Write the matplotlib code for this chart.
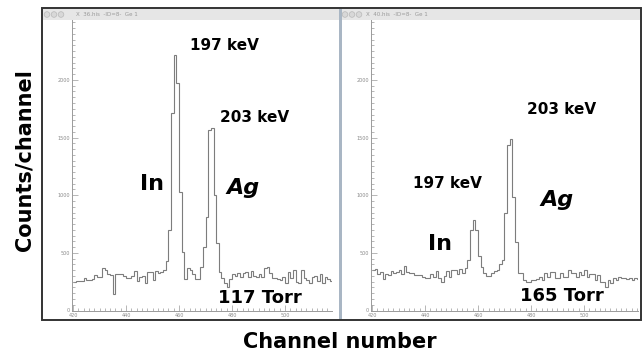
import matplotlib
matplotlib.use('Agg')
import matplotlib.pyplot as plt
import matplotlib.patches as patches
from matplotlib.ticker import FixedLocator, MultipleLocator

W, H = 643, 358

# spectrum at 117 Torr (left window), one bin per channel
channels_117 = list(range(420, 518))
counts_117 = [250, 255, 255, 255, 285, 265, 265, 270, 305, 290,
              290, 370, 350, 320, 305, 145, 320, 315, 315, 300,
              285, 285, 295, 340, 255, 290, 295, 240, 330, 330,
              265, 340, 325, 330, 355, 430, 700, 1715, 2220, 1970,
              1030, 505, 270, 365, 348, 313, 272, 272, 374, 550,
              811, 1565, 1585, 1000, 583, 336, 285, 240, 205, 270,
              315, 300, 322, 293, 322, 336, 293, 345, 300, 293,
              315, 293, 366, 380, 322, 285, 280, 270, 265, 293,
              236, 330, 280, 350, 250, 236, 350, 280, 265, 240,
              290, 300, 255, 320, 240, 290, 275, 260]

# spectrum at 165 Torr (right window)
channels_165 = list(range(420, 521))
counts_165 = [348, 363, 319, 333, 275, 319, 304, 340, 325, 330,
              348, 315, 383, 333, 325, 325, 304, 304, 304, 290,
              285, 285, 319, 290, 340, 285, 246, 295, 340, 290,
              348, 348, 319, 363, 325, 365, 435, 696, 789, 696,
              470, 377, 322, 296, 296, 322, 340, 348, 400, 435,
              843, 1435, 1484, 985, 594, 322, 322, 264, 250, 250,
              264, 264, 270, 293, 264, 328, 293, 336, 336, 279,
              279, 322, 293, 293, 351, 322, 322, 293, 336, 308,
              351, 293, 316, 316, 264, 308, 250, 250, 206, 264,
              236, 279, 264, 293, 279, 279, 270, 279, 264, 279,
              270]

tick_labels = [420, 440, 460, 480, 500]
y_labels = [0, 500, 1000, 1500, 2000]

BOLD = dict(fontweight='bold', color='black', family='DejaVu Sans')


def px_rect(x0, y0, x1, y1):
    return [x0 / W, 1 - y1 / H, (x1 - x0) / W, (y1 - y0) / H]


def setup(ax, xmax):
    ax.set_xlim(419.5, xmax)
    ax.set_ylim(0, 2520)
    ax.spines['top'].set_visible(False)
    ax.spines['right'].set_visible(False)
    for s in ['left', 'bottom']:
        ax.spines[s].set_color('#9a9a9a')
        ax.spines[s].set_linewidth(0.7)
    ax.xaxis.set_major_locator(FixedLocator(tick_labels))
    ax.xaxis.set_minor_locator(MultipleLocator(2))
    ax.yaxis.set_major_locator(FixedLocator(y_labels))
    ax.yaxis.set_minor_locator(MultipleLocator(50))
    ax.tick_params(which='both', direction='in', colors='#9a9a9a',
                   labelsize=3.5, labelcolor='#8a8a8a', width=0.5)
    ax.tick_params(which='major', length=4, pad=1.5)
    ax.tick_params(which='minor', length=2)
    ax.patch.set_alpha(0)


fig = plt.figure(figsize=(W / 100, H / 100), dpi=100)

# window decorations drawn in pixel space
bg = fig.add_axes([0, 0, 1, 1])
bg.set_xlim(0, W)
bg.set_ylim(H, 0)
bg.axis('off')
bg.add_patch(patches.Rectangle((43, 9), 296, 11, fc='#e6e6e6', ec='none'))
bg.add_patch(patches.Rectangle((341, 9), 299, 11, fc='#e6e6e6', ec='none'))
bg.add_patch(patches.Rectangle((338.5, 9), 3, 311, fc='#a9b6c4', ec='none'))
bg.add_patch(patches.Rectangle((42, 8), 599, 312, fc='none', ec='#333333', lw=1.4))
for cx in [47, 54, 61, 345, 352, 359]:
    bg.add_patch(patches.Circle((cx, 14.5), 2.8, fc='#d8d8d8', ec='#b8b8b8', lw=0.5))
bg.text(76, 14.5, 'X  36.his  -ID=8-  Ge 1', fontsize=4, color='#999999', va='center')
bg.text(366, 14.5, 'X  40.his  -ID=8-  Ge 1', fontsize=4, color='#999999', va='center')

# left spectrum
ax1 = fig.add_axes(px_rect(71.7, 20, 332, 310.5))
setup(ax1, 517.7)
ax1.stairs(counts_117, channels_117 + [channels_117[-1] + 1],
           baseline=None, color='#7d7d7d', lw=0.8)

# right spectrum
ax2 = fig.add_axes(px_rect(370.7, 20, 638, 310.5))
setup(ax2, 520.4)
ax2.stairs(counts_165, channels_165 + [channels_165[-1] + 1],
           baseline=None, color='#7d7d7d', lw=0.8)

# annotations
bg.text(224, 45, '197 keV', fontsize=11, ha='center', va='center', **BOLD)
bg.text(255, 118, '203 keV', fontsize=11, ha='center', va='center', **BOLD)
bg.text(152, 184, 'In', fontsize=16, ha='center', va='center', **BOLD)
bg.text(243, 188, 'Ag', fontsize=16, ha='center', va='center', style='italic', **BOLD)
bg.text(260, 298, '117 Torr', fontsize=13, ha='center', va='center', **BOLD)

bg.text(562, 109, '203 keV', fontsize=11, ha='center', va='center', **BOLD)
bg.text(447, 183, '197 keV', fontsize=11, ha='center', va='center', **BOLD)
bg.text(440, 244, 'In', fontsize=16, ha='center', va='center', **BOLD)
bg.text(557, 200, 'Ag', fontsize=16, ha='center', va='center', style='italic', **BOLD)
bg.text(562, 296, '165 Torr', fontsize=13, ha='center', va='center', **BOLD)

bg.text(25, 160, 'Counts/channel', fontsize=15, rotation=90, ha='center', va='center', **BOLD)
bg.text(340, 342, 'Channel number', fontsize=15, ha='center', va='center', **BOLD)

fig.savefig('out.png', dpi=100)
